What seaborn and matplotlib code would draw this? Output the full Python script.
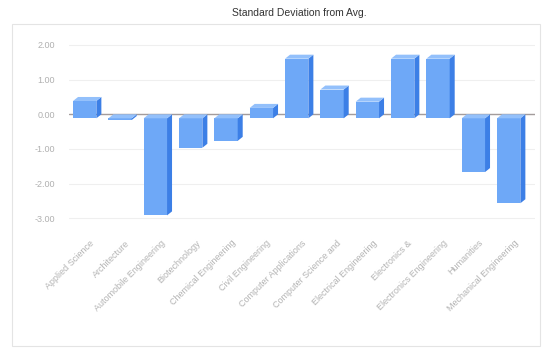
import matplotlib
matplotlib.use("Agg")
import matplotlib.pyplot as plt
import seaborn as sns
import pandas as pd
from matplotlib.patches import Polygon, Rectangle

# Deviation of each programme from the overall average, in standard deviations
programs = [
    "Applied Science",
    "Architecture",
    "Automobile Engineering",
    "Biotechnology",
    "Chemical Engineering",
    "Civil Engineering",
    "Computer Applications",
    "Computer Science and",
    "Electrical Engineering",
    "Electronics &",
    "Electronics Engineering",
    "Humanities",
    "Mechanical Engineering",
]
std_from_avg = [0.50, -0.05, -2.80, -0.85, -0.65, 0.30, 1.72, 0.83, 0.48, 1.72, 1.72, -1.55, -2.45]

ytick_values = [2, 1, 0, -1, -2, -3]
ytick_labels = ["2.00", "1.00", "0.00", "-1.00", "-2.00", "-3.00"]

FRONT = "#6ea8f7"
SIDE = "#3c7fe6"
TOP = "#93c0fb"

sns.set_theme(style="white")
plt.rcParams["font.family"] = ["Liberation Sans", "DejaVu Sans"]

fig = plt.figure(figsize=(5.42, 3.49), dpi=100)
ax = fig.add_axes([0.1264, 0.3645, 0.8605, 0.5166])

df = pd.DataFrame({"program": programs, "sd": std_from_avg})
sns.barplot(data=df, x="program", y="sd", ax=ax, color=FRONT, width=0.66,
            saturation=1, edgecolor="none", zorder=3)

ax.set_xlim(-0.6, 12.6)
ax.set_ylim(-3.1, 2.1)

# depth of the pseudo-3D extrusion, in data units (about 5 px right, 4 px up)
dx = 5 / 35.33
dy = 4 / 34.65

for p in list(ax.patches):
    x0, w = p.get_x(), p.get_width()
    y0, h = p.get_y(), p.get_height()
    lo, hi = min(y0, y0 + h), max(y0, y0 + h)
    # front face sits in front of (down-left of) the value plane
    p.set_x(x0 - dx)
    p.set_y(y0 - dy)
    p.set_clip_on(False)
    side = Polygon([(x0 + w - dx, lo - dy), (x0 + w, lo), (x0 + w, hi), (x0 + w - dx, hi - dy)],
                   closed=True, facecolor=SIDE, edgecolor="none", zorder=3, clip_on=False)
    top = Polygon([(x0 - dx, hi - dy), (x0, hi), (x0 + w, hi), (x0 + w - dx, hi - dy)],
                  closed=True, facecolor=TOP, edgecolor="none", zorder=3, clip_on=False)
    ax.add_patch(side)
    ax.add_patch(top)

ax.axhline(0, color="#a39c9c", lw=1.0, zorder=2)

ax.set_yticks(ytick_values, ytick_labels)
ax.yaxis.grid(True, color="#efefef", lw=0.8, zorder=0)
ax.set_axisbelow(True)
ax.tick_params(axis="y", length=0, pad=9.5, labelsize=6.5, labelcolor="#b0b0b0")

ax.set_xticks(range(len(programs)), programs, rotation=45, ha="right",
              rotation_mode="anchor")
ax.tick_params(axis="x", length=0, pad=12, labelsize=6.5, labelcolor="#b3b3b3")

ax.set_xlabel("")
ax.set_ylabel("")
for s in ax.spines.values():
    s.set_visible(False)

fig.text(0.553, 1 - 12.5 / 349, "Standard Deviation from Avg.", ha="center",
         va="center", fontsize=7.5, color="#333333")

fig.add_artist(Rectangle((0.022, 0.009), 0.974, 0.922, transform=fig.transFigure,
                         fill=False, edgecolor="#e4e4e4", lw=0.8))

fig.savefig("out.png", dpi=100)
